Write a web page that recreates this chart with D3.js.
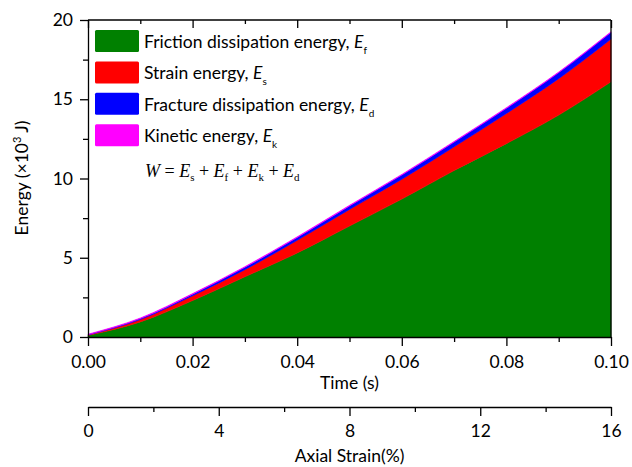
<!DOCTYPE html>
<meta charset="utf-8">
<title>Energy evolution</title>
<style>
  body { margin: 0; background: #fff; }
  svg text { font-family: Lato, "Open Sans", sans-serif; fill: #000; }
  .axis path, .axis line { stroke: #000; stroke-width: 1.3; }
</style>
<svg width="632" height="467"></svg>
<script src="https://d3js.org/d3.v7.min.js"></script>
<script>

// values (energy in x10^3 J)
var time     = [0, 0.01, 0.02, 0.03, 0.04, 0.05, 0.06, 0.07, 0.08, 0.09, 0.10];
var friction = [0.10, 0.95, 2.30, 3.80, 5.30, 7.00, 8.70, 10.5, 12.2, 14.0, 16.1];
var strain   = [0.03, 0.15, 0.30, 0.45, 0.80, 1.05, 1.25, 1.50, 1.90, 2.30, 2.70];
var fracture = [0.01, 0.06, 0.10, 0.15, 0.18, 0.22, 0.27, 0.30, 0.33, 0.38, 0.42];
var kinetic  = [0.04, 0.04, 0.04, 0.04, 0.04, 0.04, 0.04, 0.04, 0.04, 0.04, 0.04];

var names = ["Friction dissipation energy, ", "Strain energy, ", "Fracture dissipation energy, ", "Kinetic energy, "];
var subs = ["f", "s", "d", "k"];
var colors = ["#008000", "#ff0000", "#0000ff", "#ff00ff"];

var timeTicks = [0, 0.02, 0.04, 0.06, 0.08, 0.10];
var timeMinor = [0.01, 0.03, 0.05, 0.07, 0.09];
var energyTicks = [0, 5, 10, 15, 20];
var energyMinor = [2.5, 7.5, 12.5, 17.5];
var strainTicks = [0, 4, 8, 12, 16];
var strainMinor = [2, 6, 10, 14];

var svg = d3.select("svg");
var pLeft = 88, pRight = 611, pTop = 20, pBottom = 337;

var x = d3.scaleLinear().domain([0, 0.1]).range([pLeft, pRight]);
var y = d3.scaleLinear().domain([0, 20]).range([pBottom, pTop]);
var x2 = d3.scaleLinear().domain([0, 16]).range([pLeft, pRight]);

var rows = time.map(function(t, i) {
  return {t: t, friction: friction[i], strain: strain[i], fracture: fracture[i], kinetic: kinetic[i]};
});
var layers = d3.stack().keys(["friction", "strain", "fracture", "kinetic"])(rows);

var area = d3.area()
    .x(function(d) { return x(d.data.t); })
    .y0(function(d) { return y(d[0]); })
    .y1(function(d) { return y(d[1]); })
    .curve(d3.curveMonotoneX);

svg.append("g")
  .selectAll("path")
  .data(layers)
  .enter().append("path")
    .attr("d", area)
    .attr("fill", function(d, i) { return colors[i]; })
    .attr("stroke", function(d, i) { return colors[i]; })
    .attr("stroke-width", 0.6);

// frame: top and right
svg.append("line").attr("x1", pLeft).attr("x2", pRight).attr("y1", pTop).attr("y2", pTop)
  .attr("stroke", "#000").attr("stroke-width", 1.3);
svg.append("line").attr("x1", pRight).attr("x2", pRight).attr("y1", pTop).attr("y2", pBottom)
  .attr("stroke", "#000").attr("stroke-width", 1.3);

// bottom time axis
svg.append("g").attr("class", "axis")
  .attr("transform", "translate(0," + pBottom + ")")
  .call(d3.axisBottom(x).tickValues(timeTicks).tickFormat(d3.format(".2f")).tickSize(9).tickPadding(10).tickSizeOuter(0))
  .call(function(g) { g.selectAll("text").style("font-size", "17.5px"); });
svg.append("g").attr("class", "axis")
  .attr("transform", "translate(0," + pBottom + ")")
  .call(d3.axisBottom(x).tickValues(timeMinor).tickFormat("").tickSize(5))
  .call(function(g) { g.select(".domain").remove(); });

// top mirror ticks (inward)
svg.append("g").attr("class", "axis")
  .attr("transform", "translate(0," + pTop + ")")
  .call(d3.axisBottom(x).tickValues(timeTicks).tickFormat("").tickSize(8))
  .call(function(g) { g.select(".domain").remove(); });
svg.append("g").attr("class", "axis")
  .attr("transform", "translate(0," + pTop + ")")
  .call(d3.axisBottom(x).tickValues(timeMinor).tickFormat("").tickSize(4))
  .call(function(g) { g.select(".domain").remove(); });

// left energy axis
svg.append("g").attr("class", "axis")
  .attr("transform", "translate(" + pLeft + ",0)")
  .call(d3.axisLeft(y).tickValues(energyTicks).tickSize(8).tickPadding(7).tickSizeOuter(0))
  .call(function(g) { g.selectAll("text").style("font-size", "17.5px"); });
svg.append("g").attr("class", "axis")
  .attr("transform", "translate(" + pLeft + ",0)")
  .call(d3.axisLeft(y).tickValues(energyMinor).tickFormat("").tickSize(5))
  .call(function(g) { g.select(".domain").remove(); });

// second axis: axial strain
var sY = 407;
svg.append("g").attr("class", "axis")
  .attr("transform", "translate(0," + sY + ")")
  .call(d3.axisBottom(x2).tickValues(strainTicks).tickSize(9).tickPadding(9).tickSizeOuter(0))
  .call(function(g) { g.selectAll("text").style("font-size", "17.5px"); });
svg.append("g").attr("class", "axis")
  .attr("transform", "translate(0," + sY + ")")
  .call(d3.axisBottom(x2).tickValues(strainMinor).tickFormat("").tickSize(5))
  .call(function(g) { g.select(".domain").remove(); });

// axis titles
var midX = (pLeft + pRight) / 2;
svg.append("text").attr("x", midX).attr("y", 389)
  .attr("text-anchor", "middle").style("font-size", "17.5px").text("Time (s)");
svg.append("text").attr("x", midX).attr("y", 462)
  .attr("text-anchor", "middle").style("font-size", "17.5px").text("Axial Strain(%)");

var yt = svg.append("text")
  .attr("transform", "translate(28,178) rotate(-90)")
  .attr("text-anchor", "middle").style("font-size", "17.5px");
yt.append("tspan").text("Energy (\u00d710");
yt.append("tspan").attr("dy", -7).style("font-size", "11px").text("3");
yt.append("tspan").attr("dy", 7).text(" J)");

// legend
var legend = svg.append("g");
names.forEach(function(name, i) {
  var ry = 30 + i * 31.4;
  legend.append("rect").attr("x", 95).attr("y", ry).attr("width", 44).attr("height", 22)
    .attr("rx", 1.5).attr("fill", colors[i]);
  var t = legend.append("text").attr("x", 144).attr("y", ry + 18).style("font-size", "17.5px");
  t.append("tspan").text(name);
  t.append("tspan").style("font-style", "italic").text("E");
  t.append("tspan").attr("dy", 6).style("font-size", "10px").text(subs[i]);
});

// equation
var eq = svg.append("text").attr("x", 145).attr("y", 177)
  .style("font-family", "'Liberation Serif', 'Times New Roman', serif").style("font-size", "18px");
eq.append("tspan").style("font-style", "italic").text("W");
eq.append("tspan").text("  = ");
var eqSubs = ["s", "f", "k", "d"];
eqSubs.forEach(function(s, i) {
  if (i > 0) eq.append("tspan").attr("dy", -4).text(" + ");
  eq.append("tspan").style("font-style", "italic").text("E");
  eq.append("tspan").attr("dy", 4).style("font-size", "11px").text(s);
});

</script>
